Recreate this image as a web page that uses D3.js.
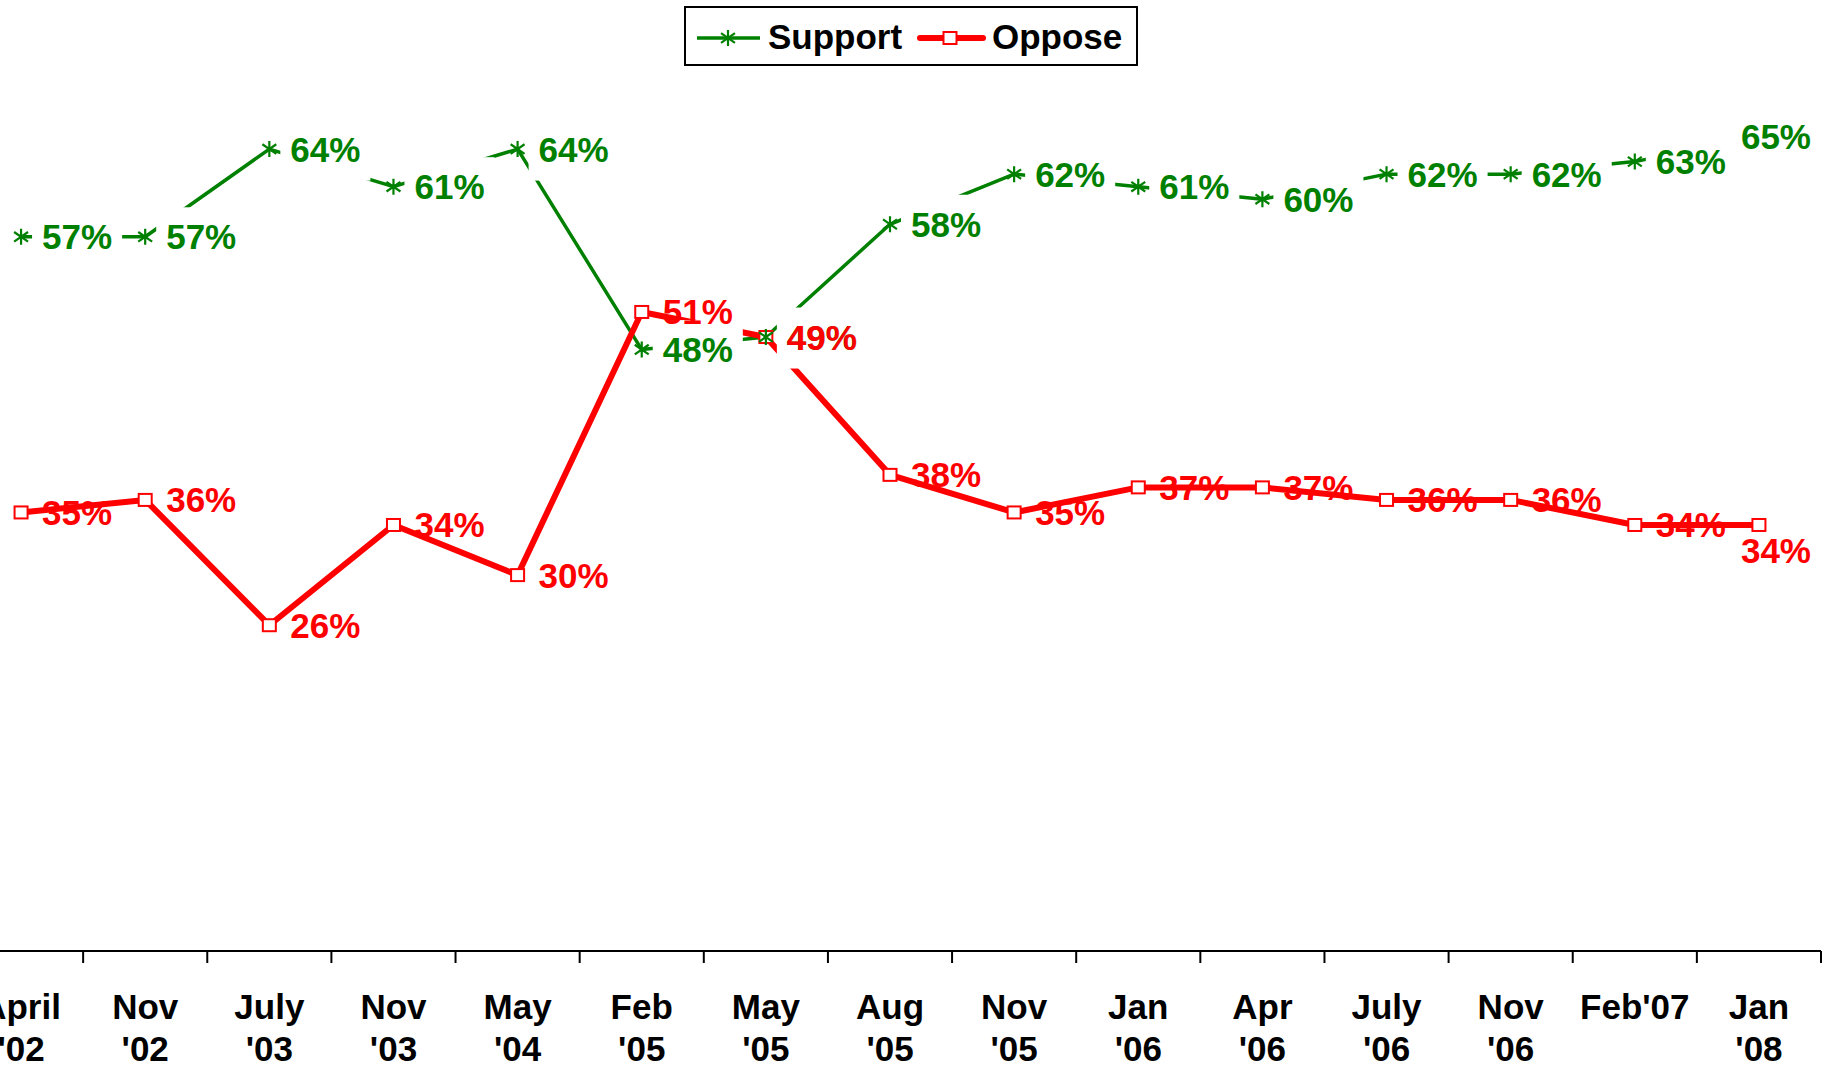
<!DOCTYPE html>
<html>
<head>
<meta charset="utf-8">
<script src="https://cdn.jsdelivr.net/npm/d3@7"></script>
<style>
  html, body { margin: 0; padding: 0; background: #fff; }
  svg { display: block; }
  text { font-family: "Liberation Sans", Arial, sans-serif; font-weight: bold; }
</style>
</head>
<body>
<svg id="chart" width="1834" height="1069"></svg>
<script>
const categories = ["April '02","Nov '02","July '03","Nov '03","May '04","Feb '05","May '05","Aug '05","Nov '05","Jan '06","Apr '06","July '06","Nov '06","Feb'07","Jan '08"];
const support = [57,57,64,61,64,48,49,58,62,61,60,62,62,63,65];
const oppose  = [35,36,26,34,30,51,49,38,35,37,37,36,36,34,34];
const seriesNames = ["Support","Oppose"];

const GREEN = "#008000", RED = "#ff0000";
const svg = d3.select("#chart");
const W = 1834, H = 1069;
svg.append("rect").attr("width", W).attr("height", H).attr("fill", "#fff");

const x = d3.scaleBand().domain(categories).range([-41, 1821]).paddingInner(0).paddingOuter(0);
const y = d3.scaleLinear().domain([0, 100]).range([951, -302]);
const cx = c => x(c) + x.bandwidth() / 2;

// axis
const axisG = svg.append("g").attr("transform", "translate(0,951)");
axisG.call(d3.axisBottom(x).tickSize(0).tickPadding(0));
axisG.select(".domain").remove();
axisG.append("line").attr("x1", 0).attr("x2", 1821).attr("y1", 0).attr("y2", 0)
  .attr("stroke", "#000").attr("stroke-width", 2);
const boundaries = categories.map(c => x(c)).concat([x.range()[1]]);
axisG.selectAll("line.tk").data(boundaries).enter().append("line")
  .attr("class", "tk").attr("x1", d => d).attr("x2", d => d)
  .attr("y1", 0).attr("y2", 12).attr("stroke", "#000").attr("stroke-width", 2);
axisG.selectAll(".tick text").each(function(d) {
  const t = d3.select(this);
  t.text(null).attr("y", 0).attr("dy", null)
    .attr("font-size", 35).attr("fill", "#000").attr("font-family", "Liberation Sans, Arial, sans-serif")
    .attr("font-weight", "bold").attr("text-anchor", "middle");
  d.split(" ").forEach((part, i) => {
    t.append("tspan").attr("x", 0).attr("y", i === 0 ? 68 : 110).text(part);
  });
});

const starPath = (s) => {
  const h = s / 2, dx = h * 0.87, dy = h * 0.6;
  return `M0,${-h}L0,${h}M${-dx},${-dy}L${dx},${dy}M${-dx},${dy}L${dx},${-dy}`;
};

const line = d3.line().x((d, i) => cx(categories[i])).y(d => y(d));

// green line then red line
svg.append("path").datum(support).attr("d", line).attr("fill", "none")
  .attr("stroke", GREEN).attr("stroke-width", 3.5).attr("stroke-linejoin", "round");
svg.append("path").datum(oppose).attr("d", line).attr("fill", "none")
  .attr("stroke", RED).attr("stroke-width", 6).attr("stroke-linejoin", "round");

// red markers
svg.selectAll("rect.om").data(oppose).enter().append("rect").attr("class", "om")
  .attr("x", (d, i) => cx(categories[i]) - 6.5).attr("y", d => y(d) - 6)
  .attr("width", 13).attr("height", 12).attr("fill", "#fff")
  .attr("stroke", RED).attr("stroke-width", 2);
// green markers
svg.selectAll("path.sm").data(support).enter().append("path").attr("class", "sm")
  .attr("transform", (d, i) => `translate(${cx(categories[i])},${y(d)})`)
  .attr("d", starPath(16)).attr("stroke", GREEN).attr("stroke-width", 2.2).attr("fill", "none");

const RIGHT_LIMIT = 1811;
function addLabels(values, color, withBg, lastDown) {
  const g = svg.append("g");
  values.forEach((v, i) => {
    const mx = cx(categories[i]), my = y(v);
    const lg = g.append("g");
    const t = lg.append("text").attr("font-size", 35).attr("fill", color)
      .attr("x", mx + 21).attr("y", my + 12.5).text(v + "%");
    let bb = t.node().getBBox();
    if (bb.x + bb.width > RIGHT_LIMIT) {
      t.attr("x", RIGHT_LIMIT - bb.width);
      if (lastDown) t.attr("y", my + 12.5 + 26);
      bb = t.node().getBBox();
    }
    if (withBg) {
      lg.insert("rect", "text").attr("x", bb.x - 10).attr("y", bb.y - 10)
        .attr("width", bb.width + 20).attr("height", bb.height + 22).attr("fill", "#fff");
    }
  });
}
addLabels(support, GREEN, true, false);
addLabels(oppose, RED, false, true);

// legend
const lg = svg.append("g");
lg.append("rect").attr("x", 685).attr("y", 7).attr("width", 452).attr("height", 58)
  .attr("fill", "#fff").attr("stroke", "#000").attr("stroke-width", 2);
lg.append("line").attr("x1", 697).attr("x2", 760).attr("y1", 38).attr("y2", 38)
  .attr("stroke", GREEN).attr("stroke-width", 3.5);
lg.append("path").attr("transform", "translate(728,38)").attr("d", starPath(16))
  .attr("stroke", GREEN).attr("stroke-width", 2.2).attr("fill", "none");
lg.append("text").attr("x", 768).attr("y", 49).attr("font-size", 35).attr("fill", "#000").text(seriesNames[0]);
lg.append("line").attr("x1", 920).attr("x2", 983).attr("y1", 38).attr("y2", 38)
  .attr("stroke", RED).attr("stroke-width", 6).attr("stroke-linecap", "round");
lg.append("rect").attr("x", 943.5).attr("y", 32).attr("width", 13).attr("height", 12)
  .attr("fill", "#fff").attr("stroke", RED).attr("stroke-width", 2);
lg.append("text").attr("x", 992).attr("y", 49).attr("font-size", 35).attr("fill", "#000").text(seriesNames[1]);
</script>
</body>
</html>
